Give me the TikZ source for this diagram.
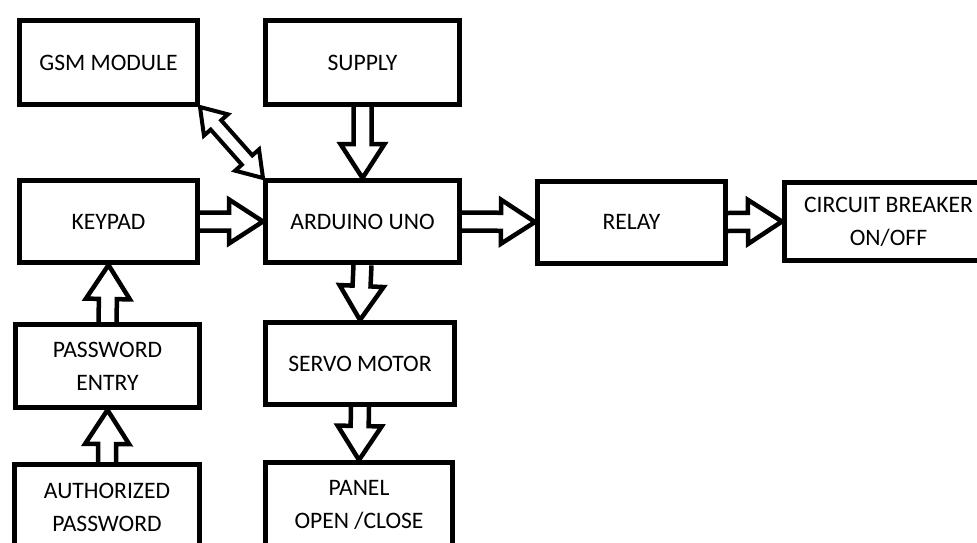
\documentclass[tikz,border=0pt]{standalone}
\usepackage{fontspec}
\setmainfont{Carlito}
\usepackage{tikz}
\usetikzlibrary{calc,backgrounds}

\newcommand\bfnt{\fontsize{23.6}{33}\selectfont}
% hollow block arrow from #1 to #2 (tip at #2)
\newcommand\barrow[2]{%
  \path let \p1=(#1), \p2=(#2), \n1={atan2(\y2-\y1,\x2-\x1)}, \n2={veclen(\x2-\x1,\y2-\y1)} in
    \pgfextra{\xdef\bax{\x1}\xdef\bay{\y1}\xdef\bang{\n1}\xdef\blen{\n2}};
  \draw[blk, shift={(\bax,\bay)}, rotate=\bang]
    (0pt,-9pt) -- (\blen-34pt,-9pt) -- (\blen-34pt,-22pt) -- (\blen,0pt)
    -- (\blen-34pt,22pt) -- (\blen-34pt,9pt) -- (0pt,9pt);
}
% same, with a head at both ends
\newcommand\bbarrow[2]{%
  \path let \p1=(#1), \p2=(#2), \n1={atan2(\y2-\y1,\x2-\x1)}, \n2={veclen(\x2-\x1,\y2-\y1)} in
    \pgfextra{\xdef\bax{\x1}\xdef\bay{\y1}\xdef\bang{\n1}\xdef\blen{\n2}};
  \draw[blk, line width=4pt, shift={(\bax,\bay)}, rotate=\bang]
    (0pt,0pt) -- (24pt,-16pt) -- (24pt,-7pt) -- (\blen-24pt,-7pt) -- (\blen-24pt,-16pt)
    -- (\blen,0pt) -- (\blen-24pt,16pt) -- (\blen-24pt,7pt) -- (24pt,7pt) -- (24pt,16pt) -- cycle;
}

\begin{document}
\begin{tikzpicture}[x=1pt, y=-1pt]
  \tikzset{box/.style={draw, line width=5pt, inner sep=2pt, align=center, font=\bfnt}}
  \tikzset{blk/.style={draw, line width=4.5pt, fill=white, line join=miter}}
  \useasboundingbox (0,0) rectangle (977,542);
  \clip (0,0) rectangle (977,542);
  % blocks
  \node[box, minimum width=178pt, minimum height=84pt] (gsm) at (108.5,62.5) {GSM MODULE};
  \node[box, minimum width=194pt, minimum height=84pt] (sup) at (362.5,62.5) {SUPPLY};
  \node[box, minimum width=178pt, minimum height=82pt] (key) at (108.5,221.5) {KEYPAD};
  \node[box, minimum width=194pt, minimum height=82pt] (ard) at (362.5,221.5) {ARDUINO UNO};
  \node[box, minimum width=188pt, minimum height=82pt] (rel) at (631.5,222) {RELAY};
  \node[box, minimum width=208pt, minimum height=78pt] (cb) at (888.5,221.5) {CIRCUIT BREAKER\\ON/OFF};
  \node[box, minimum width=184pt, minimum height=83pt] (pwd) at (107.5,366) {PASSWORD\\ENTRY};
  \node[box, minimum width=189pt, minimum height=82pt] (srv) at (360,363.5) {SERVO MOTOR};
  \node[box, minimum width=185pt, minimum height=85pt] (auth) at (107,507) {AUTHORIZED\\PASSWORD};
  \node[box, minimum width=187pt, minimum height=85pt] (pnl) at (359,505) {PANEL\\OPEN /CLOSE};
  % block arrows
  \begin{scope}[on background layer]
    \bbarrow{gsm.south east}{ard.north west}
    \barrow{sup.south}{ard.north}
    \barrow{key.east}{ard.west}
    \barrow{ard.east}{rel.west}
    \barrow{rel.east}{cb.west}
    \barrow{ard.south}{srv.north}
    \barrow{srv.south}{pnl.north}
    \barrow{pwd.north}{key.south}
    \barrow{auth.north}{pwd.south}
  \end{scope}
\end{tikzpicture}
\end{document}
